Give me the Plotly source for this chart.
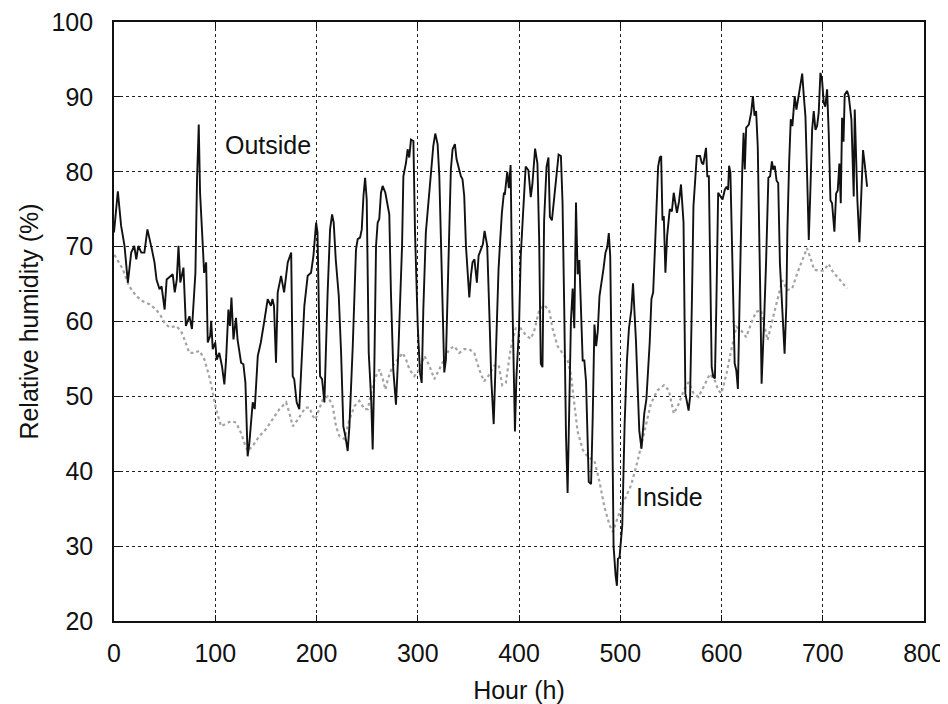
import plotly.graph_objects as go

# Outside relative humidity (hour, %)
outside_hour = [0, 3.8, 7, 10.4, 13.7, 17, 20, 22, 24, 27, 30, 33, 37, 40, 42, 45, 47, 50, 52, 56, 58, 60, 62, 63.7, 65.5, 68.6, 71, 74.5, 77, 80.4, 82, 83.7, 85, 87.7, 89, 91, 92.6, 95, 96, 97.5, 100, 101.5, 104, 106.7, 109, 110.7, 113, 114.5, 116, 118, 120.5, 122, 125.5, 127.8, 129.8, 132, 133.7, 137, 139, 142, 145, 148.5, 151.8, 155, 156.5, 158, 160, 161.7, 165, 168, 171.6, 175, 176.5, 178, 180.4, 183, 186, 188, 191.3, 194.6, 197, 199.6, 201, 203.5, 205.5, 207.8, 211, 213.4, 215.4, 217, 219, 222, 224.3, 226.5, 228.5, 230.8, 232.5, 235.8, 239, 240.7, 243, 244.7, 246.4, 248, 249.6, 251.6, 254, 255.5, 257, 258.8, 260.4, 262, 263.7, 265.3, 268, 270, 271.9, 273.5, 275.8, 278.5, 280.8, 284.5, 285.8, 288.4, 290, 291.6, 293.3, 295.7, 297.3, 300, 302.2, 303.9, 305.5, 308, 311.4, 313, 315.4, 317.3, 319.6, 321.3, 322.9, 324.5, 326.2, 327.8, 329.5, 331.1, 332.7, 334.4, 336.7, 338.3, 341, 342.6, 344.2, 345.9, 347.6, 349.2, 350.9, 352.5, 354.1, 356, 358.4, 360.1, 362, 364.3, 366, 368.6, 370.9, 372.6, 375, 376.5, 378.2, 379.8, 381.5, 383.1, 385.1, 386.1, 388.4, 390, 391.7, 393.4, 396, 397.4, 400, 401.7, 404, 406.6, 409.3, 411.6, 413.2, 415.9, 418.2, 419.9, 421.5, 423.2, 424.8, 427.2, 429.1, 430.5, 432.5, 434.8, 437.1, 439.1, 441.4, 443, 444.7, 446.4, 448, 449.7, 451.3, 453, 454.6, 456.3, 457.9, 459.6, 461.3, 462.9, 464.5, 466.2, 468.9, 471.2, 472.8, 474.5, 476.2, 477.8, 479.5, 481.8, 483.4, 485.4, 487.1, 488.7, 490.1, 491.7, 493.4, 495.4, 496.7, 497.7, 499.3, 502, 504.3, 506.6, 508.6, 510.9, 512.6, 515.5, 518.8, 521, 523.7, 525.8, 527.5, 529.1, 530.8, 532.5, 534.1, 535.8, 537.4, 539.1, 540.4, 541.7, 543, 544.6, 546.3, 548.9, 551, 552.8, 554.5, 556, 558, 560, 562.5, 564.3, 567.5, 569, 570.8, 572.3, 575.6, 578.8, 580.5, 582, 584.7, 586, 587.5, 588.6, 590.3, 591.9, 593.5, 595, 596.7, 599, 601, 603.3, 605, 606.5, 607.5, 608.8, 610.7, 613, 614.6, 616.2, 617.9, 619, 620.5, 621.8, 623, 624.4, 627, 629.3, 631, 632.6, 634.2, 635.8, 637.5, 638.5, 639.6, 641, 642.2, 644, 646.3, 648, 649.8, 651, 652.6, 654.4, 656, 657.7, 660, 662.3, 664, 665.1, 666.8, 668.4, 670, 671, 672.3, 674, 675.9, 678, 679.7, 681.3, 682.9, 684.5, 686.2, 687.8, 689.5, 691.1, 692.8, 694.4, 696, 697.7, 699.3, 701, 702.5, 704.3, 705.9, 707.6, 709.2, 711.5, 713.2, 714.8, 716.4, 717.8, 719.1, 720.5, 721.7, 724, 725.7, 728.3, 730, 730.6, 731.6, 732.9, 734.2, 736.2, 737.8, 739.8, 741.4, 743.8]
outside_rh = [71.9, 77.4, 72.8, 70.1, 65.2, 69.2, 70.1, 68.3, 70.1, 69.2, 69.2, 72.3, 69.9, 67.9, 65.6, 64.3, 64.7, 61.6, 65.6, 66.1, 66.3, 63.9, 65.6, 70.1, 65.2, 67.2, 59.4, 60.7, 59, 66.5, 79, 86.3, 77.2, 70.1, 66.5, 67.9, 57.2, 58.1, 60.1, 56.3, 57.2, 54.9, 55.8, 54, 51.6, 54.9, 61.6, 59.4, 63.2, 57.6, 60.5, 57.6, 54.5, 54.3, 51.8, 42.0, 43.8, 49.2, 48.3, 55.4, 57.2, 60.1, 63, 62.1, 63, 62.1, 54.5, 63.9, 66.1, 63.9, 67.9, 69.2, 52.7, 52.3, 49.2, 48.3, 57.5, 62.1, 66.1, 66.5, 68.8, 73.2, 71.9, 52.7, 52.3, 49.2, 63.9, 72.3, 74.3, 73.2, 68.3, 63.4, 55.8, 46, 44.7, 42.7, 46, 56.7, 69.6, 71, 71.2, 72.3, 76.8, 79.2, 76.3, 55.8, 49.6, 42.9, 52.7, 70.1, 73.2, 73.7, 77.2, 78.1, 77.2, 75.8, 74.3, 63.9, 53.6, 48.9, 55.8, 70.1, 79.4, 81.2, 83, 81.9, 84.3, 84.1, 71.9, 59.4, 53.2, 51.8, 61.6, 71.9, 77.2, 79.7, 83.5, 85.1, 83.7, 79.4, 70.1, 59.4, 53.2, 54.9, 63.9, 75, 80.3, 83, 83.7, 81.7, 80.3, 79.4, 79, 76.8, 70.1, 66.1, 63.2, 66.1, 67.9, 68.3, 65.2, 68.8, 69.6, 70.3, 72.1, 70.1, 60.3, 52.3, 46.3, 53.6, 61.6, 67, 71, 74.5, 77.2, 77.1, 80, 77.8, 80.9, 63.4, 45.3, 52.4, 59.1, 68.7, 74.4, 80.7, 80.2, 76.6, 78.3, 83.1, 81.1, 71.1, 54.4, 53.9, 73.5, 80.7, 81.9, 74, 73.5, 76.8, 79.7, 82.3, 82.1, 75.9, 61.5, 44.8, 37.1, 52, 60.1, 64.4, 59.1, 75.9, 66.3, 68.2, 62.5, 54.8, 54.8, 52, 38.6, 38.3, 47.2, 59.6, 56.7, 58.7, 63.4, 65.4, 67, 69.2, 69.9, 71.8, 68.7, 52, 30, 26.1, 24.7, 28.3, 28.5, 32.8, 46.2, 54.8, 59.1, 61.5, 65.1, 57.5, 45.4, 43, 47.7, 49.6, 52.9, 57.2, 63, 63.9, 69.2, 74.9, 80.7, 81.9, 82.1, 73.5, 74.1, 66.5, 71.4, 75, 74.7, 77.2, 75.9, 74.5, 76, 78.3, 73.2, 50.4, 48.1, 50, 62.9, 75.4, 82.1, 82.1, 81.2, 81, 83.2, 79.4, 79.4, 66.3, 53.9, 52.6, 52.4, 62.9, 77.2, 76.7, 76.3, 77.6, 78, 77.6, 80.8, 79.9, 67.5, 54.4, 53.5, 51, 62.9, 72, 80.3, 85.2, 80.3, 85.9, 86.3, 87.9, 90.1, 87.5, 88.1, 83.4, 72, 62, 51.7, 56, 60.6, 67.8, 79.2, 79.4, 81.4, 80.3, 80.8, 78.8, 78.5, 67.8, 60.6, 55.7, 62, 72.3, 81.2, 87, 86.1, 87.5, 90.1, 88.3, 89.9, 91.7, 93.1, 90.1, 87.4, 79.8, 70.9, 77.6, 85.6, 88.1, 85.6, 86.1, 87.9, 93.2, 92.3, 89.2, 88.7, 91, 85.2, 76.2, 75.8, 72, 77.1, 77.5, 81.1, 75.8, 87.2, 84, 90.3, 90.8, 90.1, 87, 79.8, 76.7, 88.3, 82, 76.2, 70.6, 76.2, 82.9, 81.1, 78]

# Inside relative humidity (hour, %)
inside_hour = [0.4, 8.7, 15, 22, 28.5, 35, 41.6, 46.5, 50, 54.8, 61.4, 66.3, 69.6, 74.5, 79.4, 84.4, 89.4, 94, 97.6, 100.8, 105.8, 110.7, 115.6, 120.6, 125.5, 128.8, 132, 137, 143.6, 150, 156.8, 163.4, 170, 173.2, 176.5, 181.5, 189, 193, 196.3, 199, 201.3, 206.2, 211.1, 216, 219.3, 222.6, 227.6, 232.5, 237.5, 242.4, 247.4, 250.7, 254, 257.3, 262.2, 265.5, 268.1, 270.4, 275.4, 280.3, 285.2, 288.5, 291.8, 296.7, 301.6, 306.6, 311.5, 316.4, 321.3, 326.3, 331.1, 336.1, 341, 345.9, 350.9, 355.8, 360.7, 365.5, 370.6, 375.5, 380, 383.4, 387, 391.7, 396.7, 401.7, 406.6, 411.6, 414.9, 419.9, 424.8, 429.8, 433.1, 438.1, 443, 448, 451.3, 454.6, 457.9, 462.9, 467.9, 474.5, 479.5, 484.4, 489.4, 492.7, 496, 501, 506, 510.9, 517.2, 523.7, 530.2, 536.7, 543.2, 548, 552.9, 557.8, 562.7, 567.5, 572.4, 577.3, 582.1, 588.6, 593.5, 596.8, 600, 604.9, 609.7, 614.6, 619.5, 624.4, 629.2, 634.1, 639, 642.2, 645.5, 650.3, 655.2, 660, 665, 669.8, 674.7, 679.5, 684.4, 688, 691.5, 696.7, 701, 705.7, 710.6, 715.5, 720.4, 724]
inside_rh = [68.9, 67, 64.7, 63.4, 62.7, 62.3, 61.6, 60.7, 59.8, 59.2, 59.4, 58.7, 57.6, 55.8, 55.8, 56.1, 54.9, 52.7, 50.5, 48.3, 46, 46.3, 46.7, 46.5, 45.1, 43.8, 42.7, 43.4, 44.7, 45.6, 46.9, 48.3, 49.2, 47.8, 46, 46.9, 48.5, 48.5, 47.4, 46.9, 47.8, 49.6, 50, 48.7, 46, 44.7, 44.3, 46.9, 48.7, 49.4, 48.3, 48.3, 50.5, 52.3, 53.6, 52.3, 50.9, 52.3, 54.1, 54.9, 55.8, 54.9, 53.6, 52.7, 53.6, 55.4, 54.1, 52.3, 53.6, 54.9, 56.3, 56.7, 55.8, 56.3, 56.3, 55.8, 53.6, 52, 52.9, 54.1, 54.2, 51.5, 51.8, 56.3, 59.1, 59.1, 58.2, 57.7, 58.7, 61.5, 62.2, 61.5, 59.1, 56.7, 55.8, 54.8, 52.9, 49.1, 45.3, 42.9, 41.9, 41.4, 38.6, 35.2, 32.8, 31.9, 33.3, 35.2, 36.7, 38.2, 41.4, 45.4, 49, 50.8, 51.5, 50.8, 47.7, 49, 50.8, 51.9, 50.4, 49.9, 51.3, 53, 52.1, 50.8, 50.4, 53, 56.2, 59.3, 58.8, 57.9, 59.7, 61.3, 61.5, 59.3, 57.5, 60.2, 62.9, 65.5, 64.2, 64.4, 66.4, 68.2, 69.8, 68.4, 66.9, 66.8, 66.8, 67.7, 66.5, 65.8, 65, 64.4]

x_ticks = [0, 100, 200, 300, 400, 500, 600, 700, 800]
y_ticks = [20, 30, 40, 50, 60, 70, 80, 90, 100]

FONT = "Liberation Sans, Arial, Helvetica, sans-serif"
FS = 25

fig = go.Figure()
fig.add_trace(go.Scatter(x=inside_hour, y=inside_rh, mode="lines", name="Inside",
                         line=dict(color="#a3a3a3", width=2.2, dash="dot")))
fig.add_trace(go.Scatter(x=outside_hour, y=outside_rh, mode="lines", name="Outside",
                         line=dict(color="#111111", width=1.9)))

fig.add_annotation(x=152, y=83.6, text="Outside", showarrow=False,
                   font=dict(size=FS, color="#111111", family=FONT))
fig.add_annotation(x=549, y=36.5, text="Inside", showarrow=False,
                   font=dict(size=FS, color="#111111", family=FONT))

axis_common = dict(showline=True, mirror="allticks", linecolor="#111111", linewidth=1.6,
                   ticks="inside", ticklen=6, tickcolor="#111111", automargin=False,
                   ticklabeloverflow="allow",
                   showgrid=True, gridcolor="#222222", gridwidth=1, griddash="dot",
                   zeroline=False, tickfont=dict(size=FS, color="#111111", family=FONT))

fig.update_xaxes(range=[0, 800], tickvals=x_ticks, ticktext=[str(v) for v in x_ticks],
                 ticklabelstandoff=9,
                 title=dict(text="Hour (h)", font=dict(size=FS, color="#111111", family=FONT), standoff=16),
                 **axis_common)
fig.update_yaxes(range=[20, 100], tickvals=y_ticks, ticktext=[str(v) for v in y_ticks],
                 ticklabelstandoff=14,
                 title=dict(text="Relative humidity (%)", font=dict(size=FS, color="#111111", family=FONT), standoff=6),
                 **axis_common)

# page body has an 8px margin; margins below compensate so the plot area lands where the reference has it
fig.update_layout(width=948, height=704, showlegend=False,
                  margin=dict(l=106, r=32, t=14, b=91),
                  paper_bgcolor="white", plot_bgcolor="white",
                  font=dict(family=FONT))

fig.write_html("out.html")
